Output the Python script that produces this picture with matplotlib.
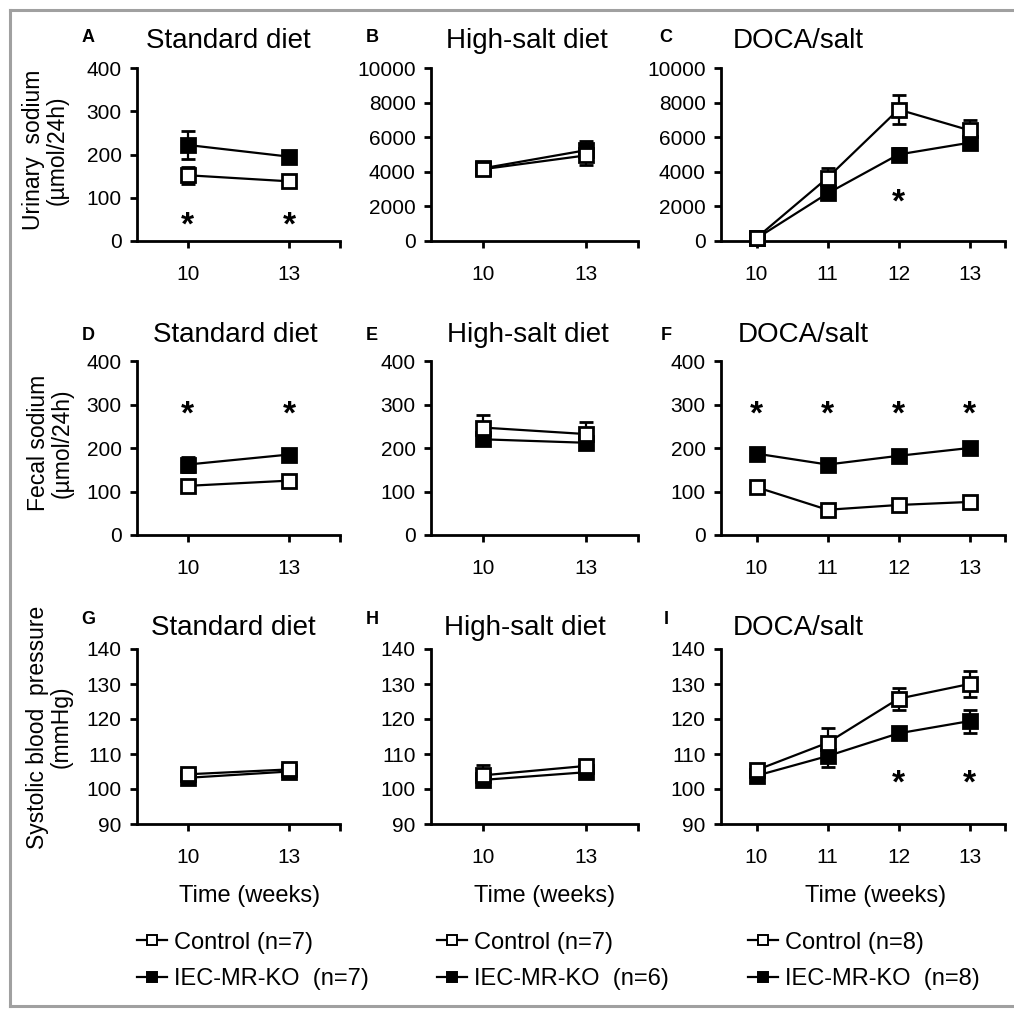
import matplotlib
matplotlib.use('Agg')
import matplotlib.pyplot as plt
from matplotlib.lines import Line2D

plt.rcParams['font.family'] = ['Liberation Sans', 'DejaVu Sans']

W, H = 1014, 1009

# ---- data ----
weeks_short = ['10', '13']
weeks_long = ['10', '11', '12', '13']

# urinary sodium (umol/24h)
urine_std_ctrl = [152, 138]
urine_std_ctrl_err = [20, 8]
urine_std_ko = [222, 195]
urine_std_ko_err = [33, 12]
urine_hs_ctrl = [4150, 4950]
urine_hs_ctrl_err = [200, 550]
urine_hs_ko = [4200, 5250]
urine_hs_ko_err = [150, 550]
urine_doca_ctrl = [180, 3650, 7600, 6400]
urine_doca_ctrl_err = [100, 580, 850, 620]
urine_doca_ko = [150, 2750, 5000, 5680]
urine_doca_ko_err = [100, 250, 350, 300]

# fecal sodium (umol/24h)
fecal_std_ctrl = [113, 125]
fecal_std_ctrl_err = [8, 6]
fecal_std_ko = [162, 185]
fecal_std_ko_err = [18, 10]
fecal_hs_ctrl = [247, 232]
fecal_hs_ctrl_err = [28, 28]
fecal_hs_ko = [220, 212]
fecal_hs_ko_err = [12, 14]
fecal_doca_ctrl = [110, 58, 69, 76]
fecal_doca_ctrl_err = [8, 5, 6, 6]
fecal_doca_ko = [187, 162, 182, 200]
fecal_doca_ko_err = [10, 8, 12, 12]

# systolic blood pressure (mmHg)
bp_std_ctrl = [104.2, 105.6]
bp_std_ctrl_err = [0.8, 0.8]
bp_std_ko = [103.2, 105.0]
bp_std_ko_err = [0.8, 0.6]
bp_hs_ctrl = [103.9, 106.6]
bp_hs_ctrl_err = [3.0, 0.8]
bp_hs_ko = [102.6, 104.8]
bp_hs_ko_err = [0.8, 0.8]
bp_doca_ctrl = [105.4, 113.2, 125.8, 130.0]
bp_doca_ctrl_err = [1.0, 4.3, 3.2, 3.8]
bp_doca_ko = [103.8, 109.4, 115.9, 119.4]
bp_doca_ko_err = [1.0, 3.0, 1.3, 3.3]

# significance marks: (week index, height)
stars_A = [(0, 60), (1, 60)]
stars_C = [(2, 2850)]
stars_D = [(0, 300), (1, 300)]
stars_F = [(0, 300), (1, 300), (2, 300), (3, 300)]
stars_I = [(2, 104.5), (3, 104.5)]

n_ctrl = [7, 7, 8]
n_ko = [7, 6, 8]

titles = ['Standard diet', 'High-salt diet', 'DOCA/salt']
ylabels = ['Urinary  sodium\n(µmol/24h)', 'Fecal sodium\n(µmol/24h)',
           'Systolic blood  pressure\n(mmHg)']

panels = [
    ('A', 0, 0, weeks_short, urine_std_ctrl, urine_std_ctrl_err, urine_std_ko, urine_std_ko_err, stars_A, (0, 400, 100)),
    ('B', 0, 1, weeks_short, urine_hs_ctrl, urine_hs_ctrl_err, urine_hs_ko, urine_hs_ko_err, [], (0, 10000, 2000)),
    ('C', 0, 2, weeks_long, urine_doca_ctrl, urine_doca_ctrl_err, urine_doca_ko, urine_doca_ko_err, stars_C, (0, 10000, 2000)),
    ('D', 1, 0, weeks_short, fecal_std_ctrl, fecal_std_ctrl_err, fecal_std_ko, fecal_std_ko_err, stars_D, (0, 400, 100)),
    ('E', 1, 1, weeks_short, fecal_hs_ctrl, fecal_hs_ctrl_err, fecal_hs_ko, fecal_hs_ko_err, [], (0, 400, 100)),
    ('F', 1, 2, weeks_long, fecal_doca_ctrl, fecal_doca_ctrl_err, fecal_doca_ko, fecal_doca_ko_err, stars_F, (0, 400, 100)),
    ('G', 2, 0, weeks_short, bp_std_ctrl, bp_std_ctrl_err, bp_std_ko, bp_std_ko_err, [], (90, 140, 10)),
    ('H', 2, 1, weeks_short, bp_hs_ctrl, bp_hs_ctrl_err, bp_hs_ko, bp_hs_ko_err, [], (90, 140, 10)),
    ('I', 2, 2, weeks_long, bp_doca_ctrl, bp_doca_ctrl_err, bp_doca_ko, bp_doca_ko_err, stars_I, (90, 140, 10)),
]

# ---- layout in pixels ----
col_left = [137, 431, 721]
col_width = [203, 207, 284]
row_top = [68, 361, 649]
row_height = [173, 174, 175]
title_x = [[228, 527, 798], [235, 528, 803], [233, 525, 798]]
title_y = [41, 335, 628]
letter_x = [88, 372, 666]
letter_y = [37, 336, 619]
ylabel_pos = [(45, 150), (50, 443), (49, 727)]
xlabel_x = [250, 545, 876]
legend_x = [137, 437, 748]


def fx(x):
    return x / W


def fy(y):
    return 1 - y / H


fig = plt.figure(figsize=(W / 100, H / 100), dpi=100)

for letter, r, c, cats, ctrl, ctrl_err, ko, ko_err, stars, yspec in panels:
    ax = fig.add_axes([fx(col_left[c]), fy(row_top[r] + row_height[r]),
                       col_width[c] / W, row_height[r] / H])
    x = list(range(len(cats)))
    style = dict(fmt='-s', color='black', mec='black', ms=9.5, mew=2, lw=1.6,
                 elinewidth=1.6, capsize=5, capthick=1.6, clip_on=False)
    ax.errorbar(x, ko, yerr=ko_err, mfc='black', zorder=3, **style)
    ax.errorbar(x, ctrl, yerr=ctrl_err, mfc='white', zorder=4, **style)

    for i, yv in stars:
        ax.annotate('*', (i, yv), xytext=(0, -14), textcoords='offset points',
                    ha='center', va='baseline', fontsize=24, fontweight='bold')

    lo, hi, step = yspec
    ax.set_ylim(lo, hi)
    ax.set_yticks(list(range(lo, hi + 1, step)))
    ax.set_xlim(-0.5, len(cats) - 0.5)
    ax.set_xticks(x)
    ax.set_xticklabels(cats)
    ax.set_xticks([len(cats) - 0.5], minor=True)

    for s in ['top', 'right']:
        ax.spines[s].set_visible(False)
    for s in ['left', 'bottom']:
        ax.spines[s].set_linewidth(2)
    ax.tick_params(which='both', direction='out', length=5, width=2, labelsize=15)
    ax.tick_params(axis='x', pad=12)
    ax.tick_params(axis='y', pad=6)

    fig.text(fx(letter_x[c]), fy(letter_y[r]), letter, fontsize=13, fontweight='bold',
             ha='center', va='center')
    fig.text(fx(title_x[r][c]), fy(title_y[r]), titles[c], fontsize=20,
             ha='center', va='center')

for r in range(3):
    fig.text(fx(ylabel_pos[r][0]), fy(ylabel_pos[r][1]), ylabels[r], rotation=90,
             fontsize=16.5, ha='center', va='center', multialignment='center',
             linespacing=1.05)

for c in range(3):
    fig.text(fx(xlabel_x[c]), fy(896), 'Time (weeks)', fontsize=17, ha='center', va='center')
    handles = [
        Line2D([], [], color='black', lw=1.6, marker='s', ms=7, mfc='white', mec='black', mew=1.4),
        Line2D([], [], color='black', lw=1.6, marker='s', ms=7, mfc='black', mec='black', mew=1.4),
    ]
    labels = ['Control (n=%d)' % n_ctrl[c], 'IEC-MR-KO  (n=%d)' % n_ko[c]]
    fig.legend(handles, labels, loc='center left', bbox_to_anchor=(fx(legend_x[c]), fy(961)),
               frameon=False, fontsize=17, handlelength=1.25, handletextpad=0.3,
               labelspacing=0.62, borderpad=0, borderaxespad=0)

# grey frame round the figure (top, left, bottom)
frame = dict(color='#a0a0a0', lw=2.2, transform=fig.transFigure)
fig.add_artist(Line2D([fx(10), 1], [fy(10), fy(10)], **frame))
fig.add_artist(Line2D([fx(10), fx(10)], [fy(10), fy(1006)], **frame))
fig.add_artist(Line2D([fx(10), 1], [fy(1006), fy(1006)], **frame))

fig.savefig('out.png', dpi=100)
